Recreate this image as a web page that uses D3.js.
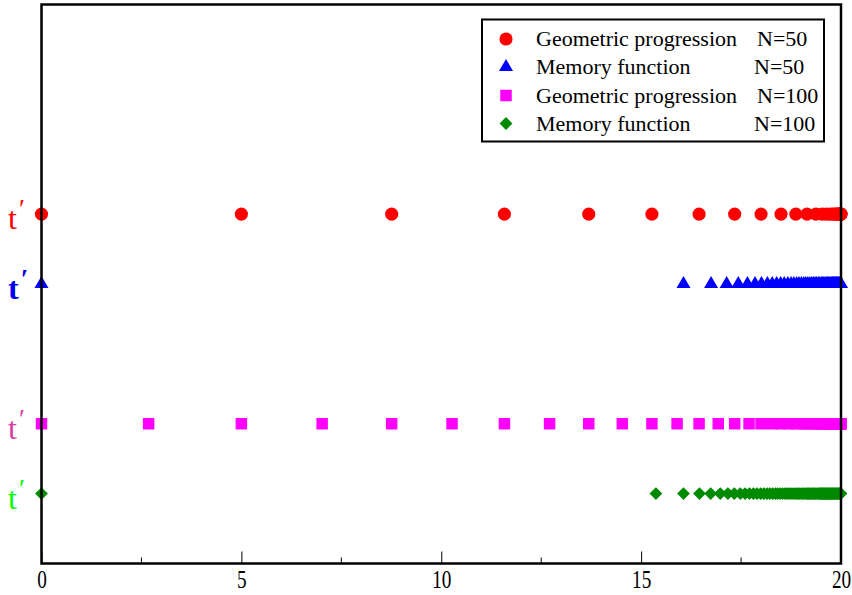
<!DOCTYPE html>
<html>
<head>
<meta charset="utf-8">
<script src="https://cdn.jsdelivr.net/npm/d3@7"></script>
<style>
  html, body { margin: 0; padding: 0; background: #fff; }
  svg { display: block; }
  svg text { font-family: "Liberation Serif", "Times New Roman", "DejaVu Serif", Times, serif !important; }
</style>
</head>
<body>
<svg id="chart" width="852" height="595"></svg>
<script>
// ---- data ----
const xTickValues = [0, 5, 10, 15, 20];
const xMinorTicks = [2.5, 7.5, 12.5, 17.5];

const geomN50 = [0, 5.0, 8.76, 11.58, 13.69, 15.27, 16.45, 17.34, 18.0, 18.5, 18.87, 19.15, 19.37,
  19.53, 19.64, 19.73, 19.80, 19.85, 19.89, 19.92, 19.94, 19.955, 19.966, 19.975, 19.981, 19.986,
  19.99, 19.993, 19.995, 19.997, 20.0];

const memN50 = [0, 16.06, 16.75, 17.14, 17.43, 17.66, 17.85, 18.01, 18.16, 18.28, 18.39, 18.49,
  18.58, 18.67, 18.75, 18.82, 18.89, 18.95, 19.01, 19.07, 19.12, 19.17, 19.22, 19.27, 19.31,
  19.35, 19.39, 19.43, 19.47, 19.51, 19.54, 19.57, 19.60, 19.63, 19.66, 19.69, 19.72, 19.75,
  19.77, 19.79, 19.81, 19.83, 19.85, 19.87, 19.89, 19.91, 19.93, 19.95, 19.97, 19.99, 20.0];

const geomN100 = [0, 2.68, 5.0, 7.02, 8.76, 10.27, 11.58, 12.71, 13.69, 14.53, 15.27, 15.9, 16.45,
  16.93, 17.34, 17.7, 18.0, 18.27, 18.5, 18.7, 18.87, 19.02, 19.15, 19.26, 19.36, 19.44, 19.51,
  19.58, 19.63, 19.68, 19.72, 19.76, 19.79, 19.82, 19.84, 19.86, 19.88, 19.9, 19.91, 19.93,
  19.94, 19.95, 19.96, 19.965, 19.97, 19.975, 19.98, 19.985, 19.99, 19.995, 20.0];

const memN100 = [0, 15.37, 16.06, 16.46, 16.74, 16.98, 17.17, 17.33, 17.48, 17.60, 17.71, 17.81,
  17.90, 17.99, 18.07, 18.15, 18.22, 18.29, 18.36, 18.42, 18.48, 18.54, 18.60, 18.65, 18.70,
  18.75, 18.80, 18.85, 18.89, 18.93, 18.97, 19.01, 19.05, 19.09, 19.13, 19.16, 19.19, 19.22,
  19.25, 19.28, 19.31, 19.34, 19.37, 19.40, 19.43, 19.46, 19.48, 19.50, 19.52, 19.54, 19.56,
  19.58, 19.60, 19.62, 19.64, 19.66, 19.68, 19.70, 19.72, 19.74, 19.76, 19.78, 19.80, 19.82,
  19.84, 19.86, 19.88, 19.90, 19.92, 19.94, 19.96, 19.98, 20.0];

const seriesNames = ["Geometric progression", "Memory function", "Geometric progression", "Memory function"];
const seriesN = ["N=50", "N=50", "N=100", "N=100"];
const seriesLevel = [4, 3, 1, 0];

// ---- layout ----
const svg = d3.select("#chart");
const mLeft = 41.5, mRight = 841, mTop = 4.5, mBottom = 563.5;
const FONT = "'Liberation Serif', 'Times New Roman', 'DejaVu Serif', serif";

const x = d3.scaleLinear().domain([0, 20]).range([mLeft, mRight]);
const y = d3.scaleLinear().domain([-1, 7]).range([mBottom, mTop]);

const series = [
  { data: geomN50, level: seriesLevel[0], color: "#ff0000", symbol: d3.symbolCircle, size: 135, rot: 0, label: "#ff0000", bold: false, name: seriesNames[0], n: seriesN[0] },
  { data: memN50, level: seriesLevel[1], color: "#0000ff", symbol: d3.symbolTriangle, size: 85, rot: 0, label: "#0000ee", bold: true, name: seriesNames[1], n: seriesN[1] },
  { data: geomN100, level: seriesLevel[2], color: "#ff00ff", symbol: d3.symbolSquare, size: 132, rot: 0, label: "#d43f9f", bold: false, name: seriesNames[2], n: seriesN[2] },
  { data: memN100, level: seriesLevel[3], color: "#008a00", symbol: d3.symbolSquare, size: 82, rot: 45, label: "#00ff00", bold: false, name: seriesNames[3], n: seriesN[3] }
];

// points
series.forEach(s => {
  svg.append("g").selectAll("path").data(s.data).join("path")
    .attr("d", d3.symbol().type(s.symbol).size(s.size))
    .attr("transform", d => `translate(${x(d)},${y(s.level)}) rotate(${s.rot})`)
    .attr("fill", s.color);
});

// frame
svg.append("rect")
  .attr("x", mLeft).attr("y", mTop)
  .attr("width", mRight - mLeft).attr("height", mBottom - mTop)
  .attr("fill", "none").attr("stroke", "#000").attr("stroke-width", 2.5);

// x axis ticks (inward)
const xAxis = d3.axisBottom(x).tickValues(xTickValues).tickSizeInner(-12).tickSizeOuter(0)
  .tickFormat(d3.format("d"));
const gx = svg.append("g").attr("transform", `translate(0,${mBottom})`).call(xAxis)
  .attr("font-family", FONT);
gx.select(".domain").remove();
gx.selectAll(".tick line").attr("stroke", "#000").attr("stroke-width", 1);
gx.selectAll(".tick text").attr("font-size", 26).attr("fill", "#000")
  .attr("y", 24.5).attr("dy", null).attr("font-family", FONT)
  .attr("transform", "scale(0.74,1)");

svg.append("g").selectAll("line").data(xMinorTicks).join("line")
  .attr("x1", d => x(d)).attr("x2", d => x(d))
  .attr("y1", mBottom).attr("y2", mBottom - 6)
  .attr("stroke", "#000").attr("stroke-width", 1);

// y labels t′
series.forEach(s => {
  const t = svg.append("text")
    .attr("x", 8).attr("y", y(s.level) + 15)
    .attr("font-family", FONT)
    .attr("font-weight", s.bold ? "bold" : "normal")
    .attr("font-size", 32).attr("fill", s.label);
  t.append("tspan").text("t");
  t.append("tspan").attr("font-size", 27).attr("dy", -11).attr("dx", 2).text("′");
});

// legend
const lg = svg.append("g").attr("font-family", FONT);
lg.append("rect").attr("x", 482).attr("y", 19.5).attr("width", 342).attr("height", 122)
  .attr("fill", "#fff").attr("stroke", "#000").attr("stroke-width", 2);
const rowY = [39, 67, 95.5, 123.5];
const nX = [757, 754, 757, 754];
series.forEach((s, i) => {
  lg.append("path")
    .attr("d", d3.symbol().type(s.symbol).size(s.size))
    .attr("transform", `translate(506,${rowY[i]}) rotate(${s.rot})`)
    .attr("fill", s.color);
  lg.append("text").attr("x", 536).attr("y", rowY[i] + 7)
    .attr("font-size", 22).attr("fill", "#000").text(s.name);
  lg.append("text").attr("x", nX[i]).attr("y", rowY[i] + 7)
    .attr("font-size", 22).attr("fill", "#000").text(s.n);
});
</script>
</body>
</html>
